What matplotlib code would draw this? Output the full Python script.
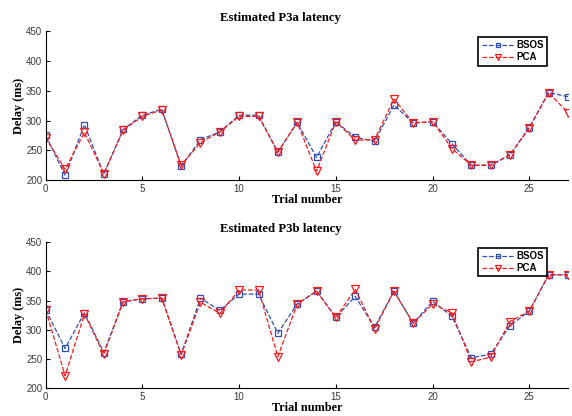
import numpy as np
import matplotlib
matplotlib.use("Agg")
import matplotlib.pyplot as plt

trials = np.arange(28)

# Estimated P3a latency (ms)
p3a_bsos = [275, 208, 293, 210, 285, 309, 319, 223, 268, 281, 309, 309, 247, 297,
            238, 298, 272, 265, 326, 296, 298, 261, 225, 225, 243, 288, 347, 340]
p3a_pca = [271, 218, 280, 211, 284, 307, 318, 225, 263, 281, 307, 307, 247, 297,
           215, 298, 267, 268, 336, 296, 298, 253, 225, 225, 242, 288, 347, 313]

# Estimated P3b latency (ms)
p3b_bsos = [334, 268, 329, 261, 348, 353, 354, 258, 354, 333, 361, 361, 294, 344,
            366, 321, 357, 304, 366, 311, 349, 323, 252, 258, 307, 332, 394, 394]
p3b_pca = [334, 221, 327, 258, 348, 353, 354, 257, 347, 328, 368, 368, 254, 344,
           366, 321, 369, 301, 366, 311, 344, 329, 245, 253, 314, 332, 394, 394]

titles = ["Estimated P3a latency", "Estimated P3b latency"]
xticks = [0, 5, 10, 15, 20, 25]
yticks = [200, 250, 300, 350, 400, 450]

serif = {"family": "Liberation Serif", "weight": "bold"}
blue = "#2f4fb8"
red = "#ff1a1a"
tickgray = "#3a3a3a"

fig = plt.figure(figsize=(5.72, 4.16), dpi=100)
positions = [[0.080, 0.567, 0.913, 0.358], [0.080, 0.067, 0.913, 0.351]]
data = [(p3a_bsos, p3a_pca), (p3b_bsos, p3b_pca)]

for pos, title, (bsos, pca) in zip(positions, titles, data):
    ax = fig.add_axes(pos)
    ax.plot(trials, bsos, linestyle="--", color=blue, lw=0.9, marker="s",
            markersize=4.5, markerfacecolor="none", markeredgecolor=blue,
            markeredgewidth=0.9, label="BSOS")
    ax.plot(trials, pca, linestyle="--", color=red, lw=0.9, marker="v",
            markersize=5.5, markerfacecolor="none", markeredgecolor=red,
            markeredgewidth=0.9, label="PCA")
    ax.set_xlim(0, 27)
    ax.set_ylim(200, 450)
    ax.set_xticks(xticks)
    ax.set_yticks(yticks)
    ax.spines["top"].set_visible(False)
    ax.spines["right"].set_visible(False)
    ax.tick_params(direction="in", length=3, labelsize=7, width=0.8,
                   labelcolor=tickgray, pad=2.5)
    for lbl in ax.get_xticklabels() + ax.get_yticklabels():
        lbl.set_family("Liberation Sans")
    ax.set_title(title, fontdict=serif, fontsize=9.2, pad=7, x=0.45)
    ax.set_ylabel("Delay (ms)", fontdict=serif, fontsize=8.8, labelpad=1)
    ax.set_xlabel("Trial number", fontdict=serif, fontsize=8.8, labelpad=0)
    leg = ax.legend(loc="upper right", bbox_to_anchor=(0.97, 0.995),
                    prop={"family": "Liberation Sans", "weight": "bold", "size": 7},
                    fancybox=False, edgecolor="black", framealpha=1,
                    handlelength=3.4, borderpad=0.35, labelspacing=0.2,
                    handletextpad=0.2, markerscale=0.75)
    leg.get_frame().set_linewidth(1.2)

fig.savefig("out.png", dpi=100)
